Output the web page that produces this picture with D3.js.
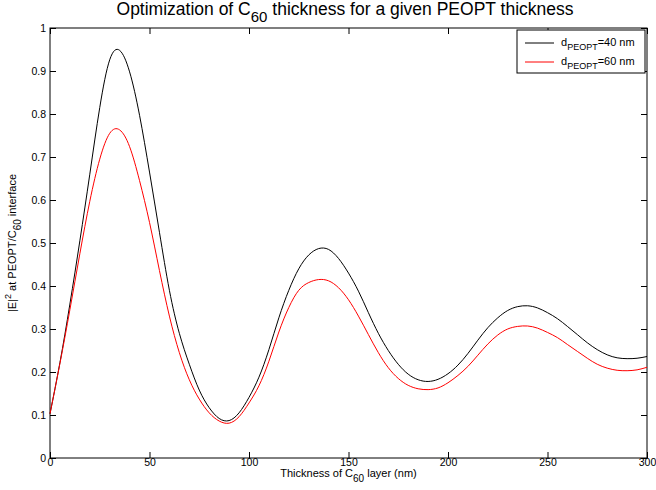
<!DOCTYPE html>
<html>
<head>
<meta charset="utf-8">
<script src="https://cdn.jsdelivr.net/npm/d3@7"></script>
<style>
  body { margin: 0; background: #fff; }
  text { font-family: "Liberation Sans", Arial, sans-serif; }
</style>
</head>
<body>
<div id="chart"></div>
<script>
// thickness of the C60 layer (nm)
var thickness = [0,5,10,15,20,25,30,35,40,45,50,55,60,65,70,75,80,85,90,95,100,
  105,110,115,120,125,130,135,140,145,150,155,160,165,170,175,180,185,190,195,200,
  205,210,215,220,225,230,235,240,245,250,255,260,265,270,275,280,285,290,295,300];

// |E|^2 for d_PEOPT = 40 nm
var e40 = [0.103,0.222,0.358,0.505,0.660,0.815,0.926,0.948,0.898,0.797,0.665,0.525,0.390,0.290,0.218,0.158,0.117,0.092,0.087,0.105,0.141,
  0.188,0.252,0.326,0.390,0.440,0.472,0.487,0.485,0.464,0.430,0.388,0.338,0.290,0.250,0.218,0.195,0.182,0.178,0.183,0.196,
  0.216,0.243,0.274,0.303,0.326,0.343,0.352,0.354,0.349,0.338,0.324,0.306,0.287,0.268,0.252,0.240,0.233,0.231,0.232,0.236];

// |E|^2 for d_PEOPT = 60 nm
var e60 = [0.103,0.220,0.345,0.475,0.597,0.695,0.755,0.763,0.724,0.645,0.548,0.436,0.330,0.245,0.182,0.137,0.105,0.086,0.081,0.096,0.128,
  0.168,0.225,0.293,0.350,0.390,0.408,0.415,0.412,0.396,0.368,0.330,0.287,0.245,0.210,0.185,0.169,0.161,0.159,0.163,0.175,
  0.192,0.213,0.239,0.265,0.286,0.300,0.306,0.307,0.302,0.292,0.280,0.264,0.248,0.232,0.218,0.209,0.204,0.203,0.205,0.211];

var xTicks = [0,50,100,150,200,250,300];
var yTicks = [0,0.1,0.2,0.3,0.4,0.5,0.6,0.7,0.8,0.9,1];

var margin = {top: 28, right: 9, bottom: 32, left: 50},
    width = 656 - margin.left - margin.right,
    height = 490 - margin.top - margin.bottom;

var svg = d3.select("#chart")
  .append("svg")
    .attr("width", 656)
    .attr("height", 490);

var g = svg.append("g")
    .attr("transform", "translate(" + margin.left + "," + margin.top + ")");

var x = d3.scaleLinear().domain([0, 300]).range([0, width]);
var y = d3.scaleLinear().domain([0, 1]).range([height, 0]);

// box around the axes
g.append("rect")
  .attr("width", width)
  .attr("height", height)
  .attr("fill", "none")
  .attr("stroke", "black")
  .attr("stroke-width", 1);

// inward ticks on all four sides (matlab style)
var tickLen = 6;
g.append("g")
  .attr("transform", "translate(0," + height + ")")
  .call(d3.axisBottom(x).tickValues(xTicks).tickSize(-tickLen).tickPadding(1).tickFormat(d3.format("d")));
g.append("g")
  .call(d3.axisTop(x).tickValues(xTicks).tickSize(-tickLen).tickFormat(""));
g.append("g")
  .call(d3.axisLeft(y).tickValues(yTicks).tickSize(-tickLen).tickPadding(4).tickFormat(d3.format("~g")));
g.append("g")
  .attr("transform", "translate(" + width + ",0)")
  .call(d3.axisRight(y).tickValues(yTicks).tickSize(-tickLen).tickFormat(""));

g.selectAll(".domain").remove();
g.selectAll(".tick text")
  .style("font-family", "'Liberation Sans', Arial, sans-serif")
  .style("font-size", "10.5px")
  .attr("fill", "black");
g.selectAll(".tick line").attr("stroke", "black");

// curves
var line = function(vals) {
  return d3.line()
    .x(function(d, i) { return x(thickness[i]); })
    .y(function(d) { return y(d); })
    .curve(d3.curveNatural)(vals);
};

g.append("path")
  .attr("d", line(e40))
  .attr("fill", "none")
  .attr("stroke", "black")
  .attr("stroke-width", 1);

g.append("path")
  .attr("d", line(e60))
  .attr("fill", "none")
  .attr("stroke", "red")
  .attr("stroke-width", 1);

// title
var title = svg.append("text")
  .attr("x", 345)
  .attr("y", 15)
  .attr("text-anchor", "middle")
  .style("font-size", "17.5px");
title.append("tspan").text("Optimization of C");
title.append("tspan").attr("dy", 7).style("font-size", "15px").text("60");
title.append("tspan").attr("dy", -7).text(" thickness for a given PEOPT thickness");

// x label
var xl = svg.append("text")
  .attr("x", margin.left + width / 2)
  .attr("y", 477)
  .attr("text-anchor", "middle")
  .style("font-size", "11px");
xl.append("tspan").text("Thickness of C");
xl.append("tspan").attr("dy", 5).style("font-size", "10px").text("60");
xl.append("tspan").attr("dy", -5).text(" layer (nm)");

// y label
var yl = svg.append("text")
  .attr("transform", "translate(16," + (margin.top + height / 2) + ") rotate(-90)")
  .attr("text-anchor", "middle")
  .style("font-size", "11px");
yl.append("tspan").text("|E|");
yl.append("tspan").attr("dy", -5).style("font-size", "9px").text("2");
yl.append("tspan").attr("dy", 5).text(" at PEOPT/C");
yl.append("tspan").attr("dy", 5).style("font-size", "10px").text("60");
yl.append("tspan").attr("dy", -5).text(" interface");

// legend
var legend = svg.append("g").attr("transform", "translate(517,30)");
legend.append("rect")
  .attr("width", 128)
  .attr("height", 43)
  .attr("fill", "white")
  .attr("stroke", "black");

var legendItems = [
  {label: "40 nm", color: "black"},
  {label: "60 nm", color: "red"}
];
legendItems.forEach(function(d, i) {
  var yy = 13 + i * 19;
  legend.append("line")
    .attr("x1", 8).attr("x2", 37)
    .attr("y1", yy).attr("y2", yy)
    .attr("stroke", d.color);
  var t = legend.append("text")
    .attr("x", 44)
    .attr("y", yy + 3)
    .style("font-size", "11px");
  t.append("tspan").text("d");
  t.append("tspan").attr("dy", 4).style("font-size", "9px").text("PEOPT");
  t.append("tspan").attr("dy", -4).text("=" + d.label);
});
</script>
</body>
</html>
